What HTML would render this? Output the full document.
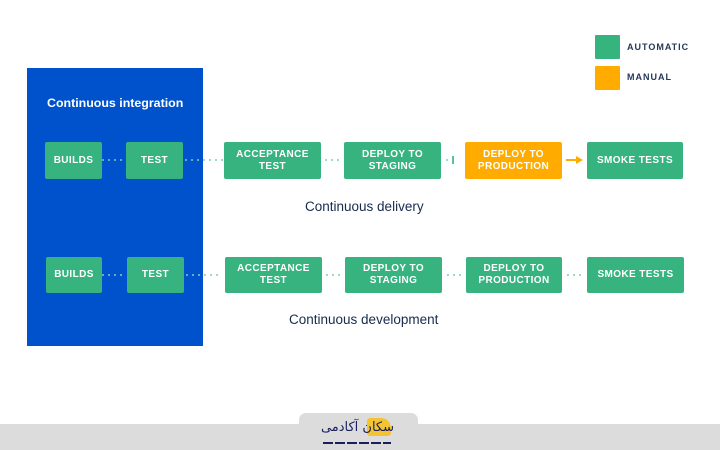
<!DOCTYPE html>
<html><head><meta charset="utf-8"><style>
html,body{margin:0;padding:0;background:#fff;}
body{width:720px;height:450px;position:relative;overflow:hidden;font-family:"Liberation Sans",sans-serif;}
.b{position:absolute;background:#36B37E;color:#fff;font-weight:bold;font-size:10px;letter-spacing:0.4px;line-height:12px;display:flex;align-items:center;justify-content:center;text-align:center;border-radius:2px;}
.o{background:#FFAB00;}
.t{position:absolute;color:#172B4D;font-size:13.5px;white-space:nowrap;}
.lg{position:absolute;color:#253858;font-weight:bold;font-size:9px;letter-spacing:1px;}
</style></head><body>
<div style="position:absolute;left:27px;top:68px;width:176px;height:278px;background:#0052CC;"></div>
<div style="position:absolute;left:47px;top:96px;color:#fff;font-weight:bold;font-size:12.4px;white-space:nowrap;">Continuous integration</div>

<svg style="position:absolute;left:0;top:0" width="720" height="450">
<g fill="#7FCFAE">
<!-- row1 -->
<circle cx="103" cy="160" r="1"/><circle cx="109" cy="160" r="1"/><circle cx="115" cy="160" r="1"/><circle cx="121" cy="160" r="1"/>
<circle cx="186" cy="160" r="1"/><circle cx="192" cy="160" r="1"/><circle cx="198" cy="160" r="1"/><circle cx="204" cy="160" r="1"/><circle cx="210" cy="160" r="1"/><circle cx="216" cy="160" r="1"/><circle cx="222" cy="160" r="1"/>
<circle cx="326" cy="160" r="1"/><circle cx="332" cy="160" r="1"/><circle cx="338" cy="160" r="1"/>
<circle cx="447" cy="160" r="1"/>
<!-- row2 -->
<circle cx="103" cy="275" r="1"/><circle cx="109" cy="275" r="1"/><circle cx="115" cy="275" r="1"/><circle cx="121" cy="275" r="1"/>
<circle cx="187" cy="275" r="1"/><circle cx="193" cy="275" r="1"/><circle cx="199" cy="275" r="1"/><circle cx="205" cy="275" r="1"/><circle cx="211" cy="275" r="1"/><circle cx="217" cy="275" r="1"/>
<circle cx="327" cy="275" r="1"/><circle cx="333" cy="275" r="1"/><circle cx="339" cy="275" r="1"/>
<circle cx="448" cy="275" r="1"/><circle cx="454" cy="275" r="1"/><circle cx="460" cy="275" r="1"/>
<circle cx="568" cy="275" r="1"/><circle cx="574" cy="275" r="1"/><circle cx="580" cy="275" r="1"/>
</g>
<rect x="452" y="156" width="2" height="8" fill="#5CC397"/>
<line x1="566" y1="160" x2="578" y2="160" stroke="#FFAB00" stroke-width="2"/>
<polygon points="576,156 583,160 576,164" fill="#FFAB00"/>
</svg>

<div class="b" style="left:45px;top:142px;width:57px;height:37px;">BUILDS</div>
<div class="b" style="left:126px;top:142px;width:57px;height:37px;">TEST</div>
<div class="b" style="left:224px;top:142px;width:97px;height:37px;">ACCEPTANCE<br>TEST</div>
<div class="b" style="left:344px;top:142px;width:97px;height:37px;">DEPLOY TO<br>STAGING</div>
<div class="b o" style="left:465px;top:142px;width:97px;height:37px;">DEPLOY TO<br>PRODUCTION</div>
<div class="b" style="left:587px;top:142px;width:96px;height:37px;">SMOKE TESTS</div>

<div class="b" style="left:46px;top:257px;width:56px;height:36px;">BUILDS</div>
<div class="b" style="left:127px;top:257px;width:57px;height:36px;">TEST</div>
<div class="b" style="left:225px;top:257px;width:97px;height:36px;">ACCEPTANCE<br>TEST</div>
<div class="b" style="left:345px;top:257px;width:97px;height:36px;">DEPLOY TO<br>STAGING</div>
<div class="b" style="left:466px;top:257px;width:96px;height:36px;">DEPLOY TO<br>PRODUCTION</div>
<div class="b" style="left:587px;top:257px;width:97px;height:36px;">SMOKE TESTS</div>

<div class="t" style="left:305px;top:199px;">Continuous delivery</div>
<div class="t" style="left:289px;top:312px;">Continuous development</div>

<div style="position:absolute;left:595px;top:35px;width:25px;height:24px;background:#36B37E;border-radius:1px;"></div>
<div style="position:absolute;left:595px;top:66px;width:25px;height:24px;background:#FFAB00;border-radius:1px;"></div>
<div class="lg" style="left:627px;top:42px;">AUTOMATIC</div>
<div class="lg" style="left:627px;top:72px;">MANUAL</div>

<div style="position:absolute;left:0;top:424px;width:720px;height:26px;background:#DCDCDC;"></div>
<div style="position:absolute;left:299px;top:413px;width:119px;height:20px;background:#DCDCDC;border-radius:7px 7px 0 0;"></div>
<div style="position:absolute;left:367px;top:418px;width:24px;height:18px;background:#F4C430;border-radius:3px 10px 3px 3px;"></div>
<div style="position:absolute;left:322px;top:418px;width:72px;height:20px;color:#1B1F5E;font-family:'DejaVu Sans',sans-serif;font-size:13px;line-height:20px;direction:rtl;white-space:nowrap;">سکان آکادمی</div>
<div style="position:absolute;left:323px;top:442px;width:68px;height:2px;background:repeating-linear-gradient(90deg,#1B1F5E 0 10px,transparent 10px 12px);"></div>
</body></html>
